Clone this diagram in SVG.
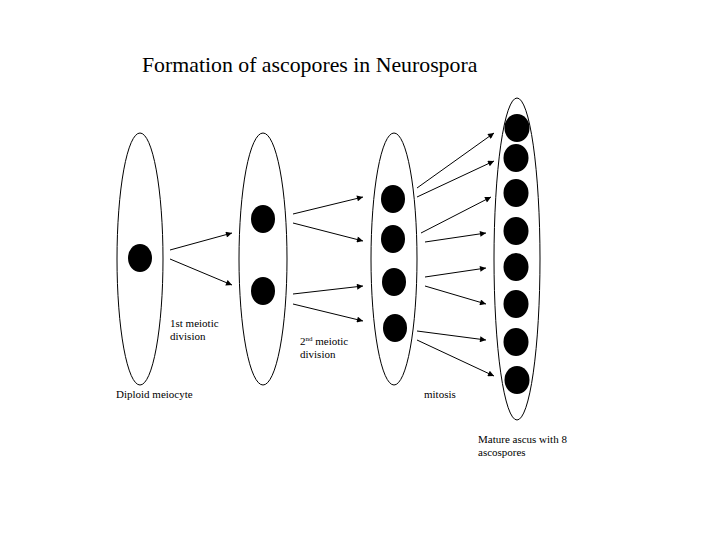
<svg xmlns="http://www.w3.org/2000/svg" width="720" height="557" viewBox="0 0 720 557">
<defs>
<marker id="ah" viewBox="0 0 10 10" refX="10" refY="5" markerWidth="8" markerHeight="6" markerUnits="userSpaceOnUse" orient="auto">
<path d="M0,0 L10,5 L0,10 z" fill="#000"/>
</marker>
<style>
.cell{fill:#fff;stroke:#000;stroke-width:1}
.nuc{fill:#000}
.arr{stroke:#000;stroke-width:1;fill:none;marker-end:url(#ah)}
text{font-family:"Liberation Serif","Times New Roman",serif;fill:#000}
.lbl{font-size:11px}
</style>
</defs>
<rect width="720" height="557" fill="#fff"/>
<text x="142" y="72" style="font-size:21.8px">Formation of ascopores in Neurospora</text>
<g id="meiocyte">
<ellipse class="cell" cx="140" cy="259" rx="23" ry="126"/>
<ellipse class="nuc" cx="140" cy="258" rx="12" ry="14"/>
</g>
<g id="dyad">
<ellipse class="cell" cx="263" cy="259" rx="24" ry="126"/>
<ellipse class="nuc" cx="263" cy="219" rx="12" ry="14"/>
<ellipse class="nuc" cx="263" cy="291" rx="12" ry="14"/>
</g>
<g id="tetrad">
<ellipse class="cell" cx="394" cy="259" rx="23" ry="126"/>
<ellipse class="nuc" cx="393" cy="199" rx="12" ry="14"/>
<ellipse class="nuc" cx="393" cy="239" rx="12" ry="14"/>
<ellipse class="nuc" cx="394" cy="282" rx="12" ry="14"/>
<ellipse class="nuc" cx="395" cy="328" rx="12" ry="14"/>
</g>
<g id="ascus">
<ellipse class="cell" cx="517" cy="259" rx="23" ry="161"/>
<ellipse class="nuc" cx="517" cy="128" rx="12.5" ry="14"/>
<ellipse class="nuc" cx="516" cy="158" rx="12.5" ry="14"/>
<ellipse class="nuc" cx="516" cy="193" rx="12.5" ry="14"/>
<ellipse class="nuc" cx="516" cy="231" rx="12.5" ry="14"/>
<ellipse class="nuc" cx="516" cy="267" rx="12.5" ry="14"/>
<ellipse class="nuc" cx="516" cy="304" rx="12.5" ry="14"/>
<ellipse class="nuc" cx="516" cy="342" rx="12.5" ry="14"/>
<ellipse class="nuc" cx="517" cy="380" rx="12.5" ry="14"/>
</g>
<g id="connectors">
<line class="arr" x1="170" y1="250" x2="232" y2="233"/>
<line class="arr" x1="170" y1="259" x2="232" y2="285"/>
<line class="arr" x1="293" y1="214" x2="363" y2="197"/>
<line class="arr" x1="293" y1="223" x2="363" y2="241"/>
<line class="arr" x1="293" y1="294" x2="363" y2="286"/>
<line class="arr" x1="293" y1="304" x2="363" y2="321"/>
<line class="arr" x1="417" y1="188" x2="494" y2="133"/>
<line class="arr" x1="417" y1="197" x2="494" y2="161"/>
<line class="arr" x1="421" y1="233" x2="491" y2="197"/>
<line class="arr" x1="425" y1="242" x2="486" y2="233"/>
<line class="arr" x1="425" y1="277" x2="486" y2="268"/>
<line class="arr" x1="425" y1="286" x2="486" y2="304"/>
<line class="arr" x1="417" y1="331" x2="486" y2="340"/>
<line class="arr" x1="417" y1="340" x2="494" y2="376"/>
</g>
<g id="labels">
<text class="lbl" x="170" y="327">1st meiotic</text>
<text class="lbl" x="170" y="340">division</text>
<text class="lbl" x="300" y="345">2<tspan style="font-size:7px" dy="-4">nd</tspan><tspan dy="4"> meiotic</tspan></text>
<text class="lbl" x="300" y="358">division</text>
<text class="lbl" x="116" y="398">Diploid meiocyte</text>
<text class="lbl" x="424" y="398">mitosis</text>
<text class="lbl" x="478" y="443">Mature ascus with 8</text>
<text class="lbl" x="478" y="456">ascospores</text>
</g>
</svg>
